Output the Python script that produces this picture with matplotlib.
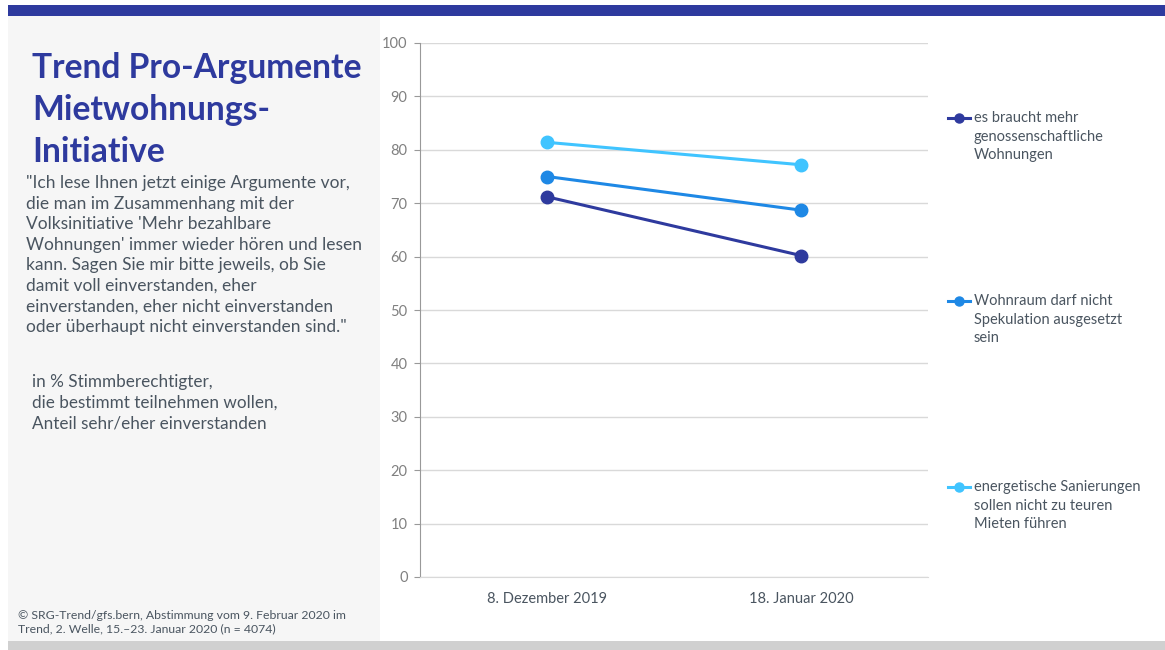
import matplotlib.pyplot as plt
from matplotlib.lines import Line2D
from matplotlib.patches import Rectangle

plt.rcParams['font.family'] = ['Lato', 'DejaVu Sans']

# survey waves and share agreeing (in %)
waves = ['8. Dezember 2019', '18. Januar 2020']
genossenschaft = [71.2, 60.2]
spekulation = [75.0, 68.7]
sanierung = [81.4, 77.2]

labels = ['es braucht mehr\ngenossenschaftliche\nWohnungen',
          'Wohnraum darf nicht\nSpekulation ausgesetzt\nsein',
          'energetische Sanierungen\nsollen nicht zu teuren\nMieten führen']
colors = ['#2e3a9e', '#1e88e5', '#40c4ff']
yticks = list(range(0, 101, 10))

navy = '#2e3a9e'
text_col = '#4a5560'

fig = plt.figure(figsize=(11.65, 6.5), dpi=100)
fig.patch.set_facecolor('white')

# frame: top bar, grey side panel, bottom strip
fig.add_artist(Rectangle((8 / 1165, 1 - 16 / 650), 1, 11 / 650,
                         transform=fig.transFigure, color=navy, lw=0, zorder=0))
fig.add_artist(Rectangle((8 / 1165, 9 / 650), 372 / 1165, 625 / 650,
                         transform=fig.transFigure, color='#f6f6f6', lw=0, zorder=0))
fig.add_artist(Rectangle((8 / 1165, 0), 1, 9 / 650,
                         transform=fig.transFigure, color='#d0d0d0', lw=0, zorder=0))

ax = fig.add_axes([420 / 1165, 1 - 577 / 650, 508 / 1165, 534 / 650])
x = range(len(waves))
for vals, c in zip([genossenschaft, spekulation, sanierung], colors):
    ax.plot(x, vals, color=c, lw=2.2, marker='o', markersize=9, zorder=3)

ax.set_xlim(-0.5, 1.5)
ax.set_ylim(0, 100)
ax.set_yticks(yticks)
ax.set_xticks(list(x))
ax.set_xticklabels(waves, fontsize=10.5, color=text_col)
ax.tick_params(axis='x', length=0, pad=11)
ax.tick_params(axis='y', length=4, color='#999999', labelsize=10.5,
               labelcolor='#808080', pad=5)
ax.grid(axis='y', color='#d9d9d9', lw=1)
ax.set_axisbelow(True)
for side in ['top', 'right']:
    ax.spines[side].set_visible(False)
ax.spines['left'].set_color('#999999')
ax.spines['bottom'].set_color('#d9d9d9')
ax.patch.set_alpha(0)

# legend entries, handle aligned with the first label line
leg_y = [118, 301, 487]
for lab, c, yy in zip(labels, colors, leg_y):
    fy = 1 - yy / 650
    fig.add_artist(Line2D([948 / 1165, 970 / 1165], [fy, fy], color=c, lw=2.2,
                          transform=fig.transFigure))
    fig.add_artist(Line2D([959 / 1165], [fy], color=c, marker='o', markersize=6.5,
                          transform=fig.transFigure))
    fig.text(974 / 1165, fy + 7 / 650, lab, fontsize=10.5, color=text_col,
             va='top', ha='left', linespacing=1.42)

# left panel text
fig.text(32 / 1165, 1 - 52 / 650, 'Trend Pro-Argumente\nMietwohnungs-\nInitiative',
         fontsize=24.2, fontweight='bold', color=navy, va='top', ha='left',
         linespacing=1.38)
fig.text(26 / 1165, 1 - 175 / 650,
         '"Ich lese Ihnen jetzt einige Argumente vor,\n'
         'die man im Zusammenhang mit der\n'
         'Volksinitiative \'Mehr bezahlbare\n'
         'Wohnungen\' immer wieder hören und lesen\n'
         'kann. Sagen Sie mir bitte jeweils, ob Sie\n'
         'damit voll einverstanden, eher\n'
         'einverstanden, eher nicht einverstanden\n'
         'oder überhaupt nicht einverstanden sind."',
         fontsize=12.5, color=text_col, va='top', ha='left', linespacing=1.35)
fig.text(32 / 1165, 1 - 374 / 650,
         'in % Stimmberechtigter,\ndie bestimmt teilnehmen wollen,\n'
         'Anteil sehr/eher einverstanden',
         fontsize=12.3, color=text_col, va='top', ha='left', linespacing=1.35)
fig.text(18 / 1165, 1 - 610 / 650,
         '© SRG-Trend/gfs.bern, Abstimmung vom 9. Februar 2020 im\n'
         'Trend, 2. Welle, 15.–23. Januar 2020 (n = 4074)',
         fontsize=8.8, color=text_col, va='top', ha='left', linespacing=1.2)

fig.savefig('out.png', dpi=100)
